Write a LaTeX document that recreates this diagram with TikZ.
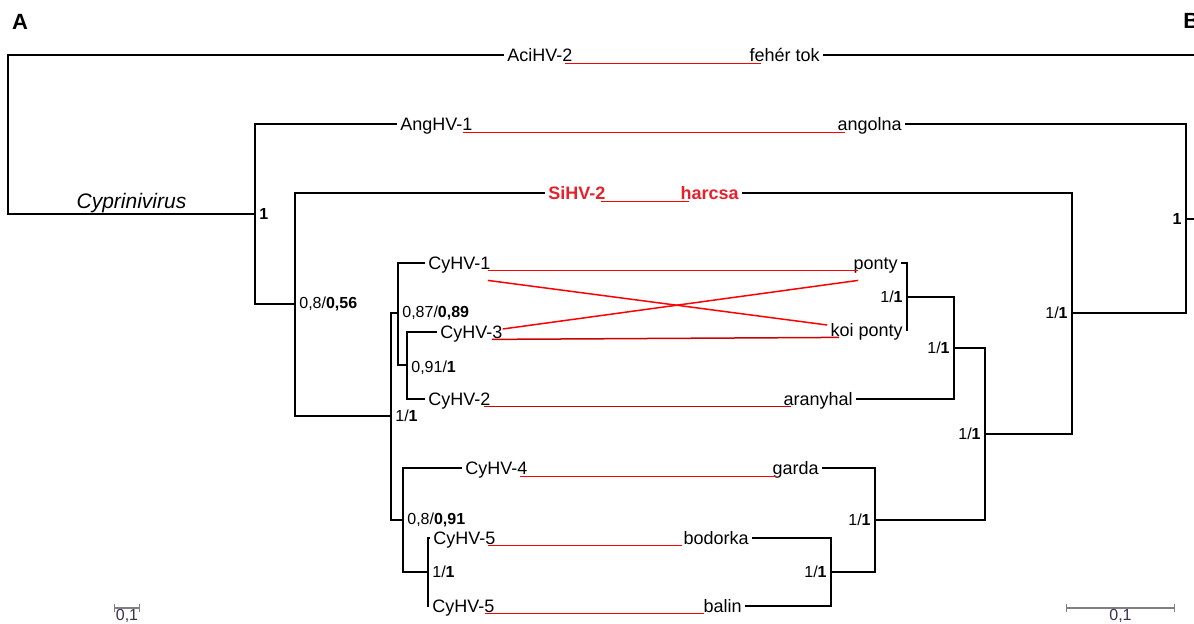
\documentclass[tikz,border=0pt]{standalone}
\usepackage{fontspec}
\setmainfont{Liberation Sans}
\usetikzlibrary{positioning,arrows.meta}
\definecolor{catfish}{RGB}{232,32,44}
\definecolor{scaletext}{RGB}{58,48,80}

\begin{document}
\begin{tikzpicture}[x=0.5pt,y=-0.5pt,line join=miter]
\tikzstyle{taxon}=[inner xsep=1.5pt,inner ysep=0pt,text height=6.4pt,text depth=0pt,font=\fontsize{9}{10}\selectfont]
\tikzstyle{virus}=[taxon,anchor=west]
\tikzstyle{host}=[taxon,anchor=east]
\tikzstyle{siluris}=[text=catfish,font=\bfseries\fontsize{9}{10}\selectfont]
\tikzstyle{support}=[inner xsep=2pt,inner ysep=0pt,font=\fontsize{8}{9}\selectfont]
\tikzstyle{panel}=[inner sep=0pt,font=\bfseries\fontsize{11}{12}\selectfont]
\tikzstyle{branch}=[line width=0.55pt]
\tikzstyle{hostlink}=[red,line width=0.75pt]
\tikzstyle{scalebar}=[gray,line width=0.7pt,{Bar[width=4pt]}-{Bar[width=4pt]}]
\tikzstyle{scalelabel}=[below,inner sep=0.5pt,text=scaletext,font=\fontsize{8}{9}\selectfont]
\useasboundingbox (0,0) rectangle (1194,624);

\node[panel] (A) at (20,22) {A};
\node[panel,anchor=west] (B) at (1183,21) {B};

% virus tree
\node[virus] (acihv2) at (504,55) {AciHV-2};
\node[virus] (anghv1) at (397,124) {AngHV-1};
\node[virus,siluris] (sihv2) at (545,193) {SiHV-2};
\node[virus] (cyhv1) at (425,263) {CyHV-1};
\node[virus] (cyhv3) at (437,332) {CyHV-3};
\node[virus] (cyhv2) at (425,399) {CyHV-2};
\node[virus] (cyhv4) at (462,468) {CyHV-4};
\node[virus] (cyhv5a) at (430,538) {CyHV-5};
\node[virus] (cyhv5b) at (429,606) {CyHV-5};

\coordinate (L0) at (8,134);
\coordinate (L1) at (255,214);
\coordinate (L2) at (295,304);
\coordinate (L3) at (391,416);
\coordinate (L4) at (398,313);
\coordinate (L5) at (407,365);
\coordinate (L6) at (403,520);
\coordinate (L7) at (428,572);

\draw[branch] (acihv2.west) -| (L0) |- node[pos=0.75,above,inner sep=0.5pt,font=\itshape\fontsize{10.5}{12}\selectfont] (genus) {Cyprinivirus} (L1);
\draw[branch] (anghv1.west) -| (L1) |- (L2);
\draw[branch] (sihv2.west) -| (L2) |- (L3);
\draw[branch] (L4) -| (L3) |- (L6);
\draw[branch] (cyhv1.west) -| (L4) |- (L5);
\draw[branch] (cyhv3.west) -| (L5) |- (cyhv2.west);
\draw[branch] (cyhv4.west) -| (L6) |- (L7);
\draw[branch] (cyhv5a.west) -| (L7) |- (cyhv5b.west);

\node[support,right=0pt of L1] (sL1) {\textbf{1}};
\node[support,right=0pt of L2] (sL2) {0,8/\textbf{0,56}};
\node[support,right=0pt of L3] (sL3) {1/\textbf{1}};
\node[support,right=0pt of L4] (sL4) {0,87/\textbf{0,89}};
\node[support,right=0pt of L5,yshift=-1.5pt] (sL5) {0,91/\textbf{1}};
\node[support,right=0pt of L6] (sL6) {0,8/\textbf{0,91}};
\node[support,right=0pt of L7] (sL7) {1/\textbf{1}};

% host tree
\node[host] (fehertok) at (823,55) {fehér tok};
\node[host] (angolna) at (905,124) {angolna};
\node[host,siluris] (harcsa) at (742,193) {harcsa};
\node[host] (ponty) at (901,263) {ponty};
\node[host] (koiponty) at (906,330) {koi ponty};
\node[host] (aranyhal) at (856,399) {aranyhal};
\node[host] (garda) at (822,468) {garda};
\node[host] (bodorka) at (752,538) {bodorka};
\node[host] (balin) at (745,606) {balin};

\coordinate (Rtop) at (1200,55);
\coordinate (Rroot) at (1200,219);
\coordinate (R0) at (1186,219);
\coordinate (R1) at (1072,313);
\coordinate (R2) at (985,434);
\coordinate (R3) at (954,348);
\coordinate (R4) at (907,297);
\coordinate (R5) at (875,520);
\coordinate (R6) at (831,572);

\draw[branch] (fehertok.east) -- (Rtop);
\draw[branch] (R0) -- (Rroot);
\draw[branch] (angolna.east) -| (R0) |- (R1);
\draw[branch] (harcsa.east) -| (R1) |- (R2);
\draw[branch] (R3) -| (R2) |- (R5);
\draw[branch] (R4) -| (R3) |- (aranyhal.east);
\draw[branch] (ponty.east) -| (R4) |- (koiponty.east);
\draw[branch] (garda.east) -| (R5) |- (R6);
\draw[branch] (bodorka.east) -| (R6) |- (balin.east);

\node[support,left=0pt of R0] (sR0) {\textbf{1}};
\node[support,left=0pt of R1] (sR1) {1/\textbf{1}};
\node[support,left=0pt of R2] (sR2) {1/\textbf{1}};
\node[support,left=0pt of R3] (sR3) {1/\textbf{1}};
\node[support,left=0pt of R4] (sR4) {1/\textbf{1}};
\node[support,left=0pt of R5] (sR5) {1/\textbf{1}};
\node[support,left=0pt of R6] (sR6) {1/\textbf{1}};

% virus -- host associations
\draw[hostlink] ([shift={(-11,2)}]acihv2.base east) -- ([shift={(15,2)}]fehertok.base west);
\draw[hostlink] ([shift={(-13,2)}]anghv1.base east) -- ([shift={(11,2)}]angolna.base west);
\draw[hostlink] ([shift={(-8,2)}]sihv2.base east) -- ([shift={(12,2)}]harcsa.base west);
\draw[hostlink] ([shift={(-6,1)}]cyhv1.base east) -- ([shift={(8,1)}]ponty.base west);
\draw[hostlink] ([shift={(-6,11)}]cyhv1.base east) -- ([shift={(0,-5)}]koiponty.west);
\draw[hostlink] ([shift={(-3,-3)}]cyhv3.east) -- ([shift={(8,11)}]ponty.base west);
\draw[hostlink,red!80!black] ([shift={(-14,1)}]cyhv3.base east) -- ([shift={(12,1)}]koiponty.base west);
\draw[hostlink,red!80!black] ([shift={(-10,1)}]cyhv2.base east) -- ([shift={(11,1)}]aranyhal.base west);
\draw[hostlink] ([shift={(-11,2)}]cyhv4.base east) -- ([shift={(7,2)}]garda.base west);
\draw[hostlink] ([shift={(-11,1)}]cyhv5a.base east) -- ([shift={(2,1)}]bodorka.base west);
\draw[hostlink] ([shift={(-13,1)}]cyhv5b.base east) -- ([shift={(4,1)}]balin.base west);

% scale bars
\coordinate (sbl1) at (114,608);
\coordinate (sbl2) at (140,608);
\coordinate (sbr1) at (1066,608);
\coordinate (sbr2) at (1175,608);
\draw[scalebar] (sbl1) -- (sbl2) node[midway,scalelabel] (sbltext) {0,1};
\draw[scalebar] (sbr1) -- (sbr2) node[midway,scalelabel] (sbrtext) {0,1};
\end{tikzpicture}
\end{document}
